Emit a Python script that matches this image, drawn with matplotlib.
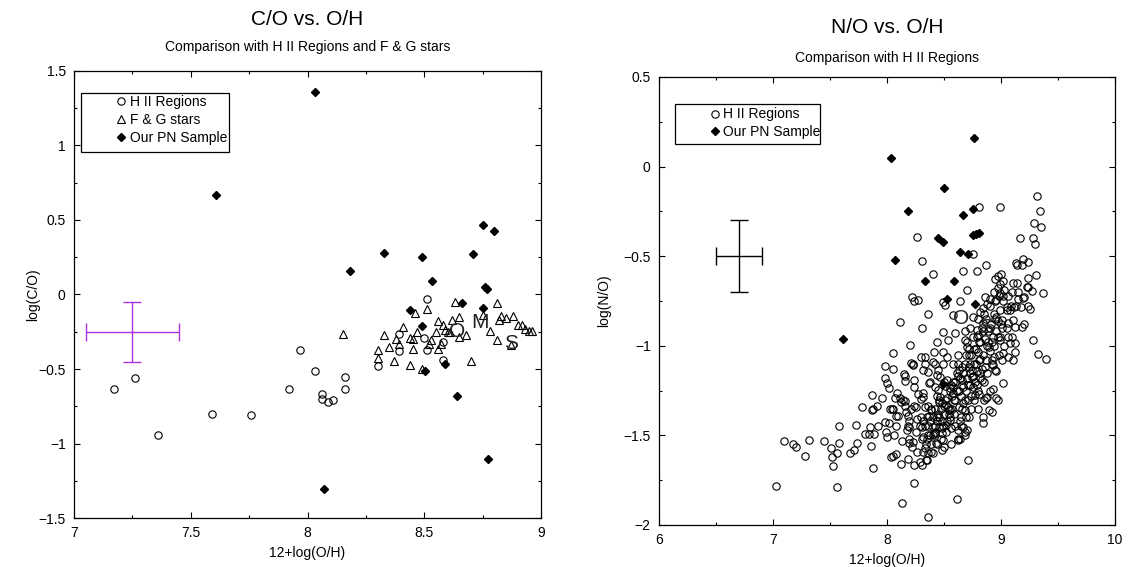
import matplotlib
matplotlib.use('Agg')
import matplotlib.pyplot as plt
from matplotlib.ticker import MultipleLocator, FuncFormatter
from matplotlib.patches import Rectangle

plt.rcParams['font.family'] = ['Liberation Sans', 'DejaVu Sans']

# ---- left panel: C/O vs O/H ----
hii_oh = [7.17, 7.26, 7.36, 7.59, 7.76, 7.919, 7.969, 8.031, 8.06, 8.06, 8.089, 8.11,
          8.16, 8.16, 8.30, 8.39, 8.39, 8.50, 8.51, 8.51, 8.58, 8.58]
hii_co = [-0.633, -0.561, -0.944, -0.800, -0.812, -0.633, -0.371, -0.514, -0.668, -0.70,
          -0.722, -0.709, -0.552, -0.633, -0.481, -0.262, -0.380, -0.291, -0.031, -0.373,
          -0.322, -0.438]

fg_oh = [8.151, 8.30, 8.30, 8.329, 8.35, 8.369, 8.38, 8.39, 8.41, 8.44, 8.45, 8.45, 8.44,
         8.46, 8.47, 8.49, 8.51, 8.52, 8.53, 8.55, 8.56, 8.56, 8.57, 8.58, 8.59, 8.60,
         8.61, 8.62, 8.63, 8.65, 8.65, 8.68, 8.70, 8.75, 8.78, 8.81, 8.81, 8.82, 8.83,
         8.85, 8.88, 8.90, 8.92, 8.93, 8.95, 8.96, 8.87]
fg_co = [-0.262, -0.371, -0.423, -0.270, -0.349, -0.445, -0.300, -0.329, -0.220, -0.295,
         -0.300, -0.367, -0.472, -0.125, -0.255, -0.503, -0.100, -0.329, -0.304, -0.255,
         -0.181, -0.367, -0.329, -0.203, -0.237, -0.255, -0.255, -0.172, -0.051, -0.152,
         -0.282, -0.275, -0.449, -0.136, -0.248, -0.060, -0.304, -0.172, -0.143, -0.161,
         -0.143, -0.203, -0.203, -0.232, -0.248, -0.248, -0.338]

pn_oh = [8.031, 7.61, 8.329, 8.18, 8.492, 8.532, 8.75, 8.80, 8.71, 8.759, 8.77, 8.66,
         8.75, 8.44, 8.492, 8.502, 8.59, 8.639, 8.772, 8.069]
pn_co = [1.359, 0.668, 0.279, 0.159, 0.250, 0.089, 0.469, 0.429, 0.270, 0.051, 0.040,
         -0.060, -0.092, -0.107, -0.210, -0.512, -0.467, -0.682, -1.102, -1.303]

sun_labels = ['O', 'M', 'S']
sun_oh = [8.64, 8.74, 8.87]
sun_co = [-0.25, -0.19, -0.33]

err_left = (7.25, -0.25, 0.2, 0.2)

# ---- right panel: N/O vs O/H ----
hii2_oh = [
    7.023, 7.094, 7.178, 7.199, 7.284, 7.319, 7.447, 7.509, 7.515, 7.530, 7.558, 7.576,
    7.558, 7.582, 7.673, 7.711, 7.725, 7.734, 7.778, 7.807, 7.860, 7.874, 7.865, 7.880,
    7.868, 7.850, 7.915, 7.953, 7.920, 7.980, 7.988, 7.997, 7.985, 8.003, 8.015, 7.985,
    8.050, 8.050, 8.026, 8.020, 8.050, 8.032, 8.050, 8.076, 8.073, 8.085, 8.094, 8.114,
    8.126, 8.132, 8.137, 8.158, 8.149, 8.158, 8.167, 8.172, 8.196, 8.196, 8.216, 8.230,
    8.187, 8.208, 8.230, 8.205, 8.237, 8.237, 8.237, 8.240, 8.254, 8.260, 8.295, 8.304,
    8.313, 8.333, 8.318, 8.333, 8.304, 8.318, 8.333, 8.348, 8.360, 8.357, 8.360, 8.377,
    8.390, 8.406, 8.406, 8.420, 8.406, 8.436, 8.450, 8.465, 8.450, 8.465, 8.480, 8.459,
    8.480, 8.494, 8.500, 8.494, 8.509, 8.494, 8.494, 8.523, 8.523, 8.538, 8.538, 8.547,
    8.553, 8.582, 8.582, 8.588, 8.582, 8.596, 8.617, 8.626, 8.634, 8.626, 8.640, 8.664,
    8.655, 8.670, 8.670, 8.684, 8.693, 8.684, 8.699, 8.699, 8.705, 8.713, 8.728, 8.743,
    8.743, 8.722, 8.757, 8.772, 8.787, 8.801, 8.801, 8.816, 8.816, 8.830, 8.839, 8.845,
    8.845, 8.860, 8.874, 8.889, 8.898, 8.874, 8.898, 8.918, 8.918, 8.927, 8.940, 8.956,
    8.947, 8.956, 8.977, 8.991, 8.991, 9.006, 9.020, 9.015, 9.050, 9.056, 9.064, 9.079,
    9.064, 9.102, 9.108, 9.120, 9.120, 9.137, 9.180, 9.196, 9.240, 9.254, 9.283, 9.327,
    9.392, 9.365,
    # upper part
    9.319, 9.342, 9.292, 9.348, 8.988, 8.810, 8.260, 9.167, 9.284, 9.298, 8.304, 9.132,
    9.138, 9.190, 9.240, 9.180, 8.751, 8.865, 8.670, 8.792, 8.400, 8.977, 8.947, 9.020,
    9.305, 9.240, 9.102, 9.146, 8.977, 8.991, 9.231, 9.275, 9.000,
    8.94, 8.98, 9.03, 9.06, 9.10, 8.90, 9.15, 9.20, 8.22, 8.24, 8.27,
    8.96, 9.02, 9.11, 9.175, 9.235, 8.816, 8.845, 8.751, 9.006, 9.064,
    # crowded middle
    8.415, 8.33, 8.225, 8.36, 8.42, 8.49, 8.44, 8.16, 8.366, 8.418, 8.505, 8.55, 8.11,
    8.27, 8.313, 8.30, 8.04, 8.155, 8.125, 8.21, 8.24, 8.36, 8.39, 8.46, 8.50, 8.55,
    8.08, 8.18, 8.30, 8.37, 8.44,
    7.84, 7.89, 8.29, 8.31, 8.34, 8.39, 8.32, 8.26, 8.19, 8.13, 8.25, 8.18, 8.19, 8.06,
    8.08, 8.29, 8.32, 8.36, 8.41, 8.43, 8.39, 8.48, 8.52, 8.56, 8.62, 8.65, 8.68, 8.62,
    8.31, 8.35,
    9.09, 9.13, 9.20, 9.12, 9.01, 8.96, 8.97, 8.93, 8.87, 8.81,
    8.40, 8.42, 8.44, 8.45, 8.47, 8.48, 8.50, 8.52, 8.53, 8.55, 8.55, 8.57, 8.58, 8.60,
    8.61, 8.62, 8.63, 8.65, 8.66, 8.67, 8.68, 8.69, 8.70, 8.71, 8.72, 8.73, 8.74, 8.75,
    8.76, 8.77, 8.78, 8.79, 8.80, 8.81, 8.82, 8.83, 8.84, 8.85, 8.86, 8.87, 8.88, 8.89,
    8.90, 8.91, 8.92, 8.93, 8.94, 8.95, 8.96, 8.98, 8.99, 9.00, 8.60, 8.65, 8.38, 8.36,
    8.44, 8.52, 8.46, 8.50, 8.62, 8.70, 8.58, 8.66, 8.72, 8.76, 8.80, 8.85, 8.90, 8.56,
    8.48, 8.40, 8.34, 8.33, 8.42, 8.73, 8.80, 8.85, 8.90, 8.95, 9.02, 9.05, 9.08, 9.10,
    9.03, 8.68, 8.64, 8.60, 8.74, 8.79, 8.83,
    8.42, 8.46, 8.49, 8.51, 8.54, 8.56, 8.59, 8.61, 8.63, 8.64, 8.66, 8.68, 8.69, 8.71,
    8.73, 8.74, 8.76, 8.78, 8.79, 8.81, 8.82, 8.84, 8.86, 8.88, 8.90, 8.92, 8.94, 8.97,
    8.99, 8.72, 8.64, 8.57, 8.53, 8.47, 8.38, 8.35, 8.44, 8.68, 8.75, 8.87]
hii2_no = [
    -1.781, -1.532, -1.549, -1.564, -1.614, -1.523, -1.534, -1.569, -1.619, -1.672,
    -1.601, -1.545, -1.787, -1.448, -1.601, -1.582, -1.443, -1.541, -1.340, -1.493,
    -1.558, -1.681, -1.359, -1.350, -1.275, -1.452, -1.337, -1.290, -1.448, -1.428,
    -1.480, -1.508, -1.179, -1.210, -1.233, -1.113, -1.039, -1.132, -1.355, -1.430,
    -1.350, -1.619, -1.616, -1.605, -1.294, -1.266, -1.390, -0.870, -1.657, -1.880,
    -1.300, -1.310, -1.160, -1.167, -1.368, -1.470, -1.452, -1.545, -1.564, -1.536,
    -1.634, -1.097, -1.108, -0.996, -1.190, -1.229, -1.765, -1.666, -1.340, -1.411,
    -1.065, -0.900, -1.136, -1.099, -1.285, -1.340, -1.452, -1.508, -1.573, -1.638,
    -1.600, -1.954, -0.820, -1.200, -1.359, -1.396, -1.452, -1.489, -1.089, -0.978,
    -1.136, -1.173, -1.247, -1.285, -1.322, -1.452, -1.489, -1.526, -1.564, -0.754,
    -0.773, -0.922, -1.033, -1.061, -1.190, -0.970, -1.340, -1.378, -1.415, -1.229,
    -1.266, -1.303, -0.829, -0.931, -1.856, -1.099, -1.136, -1.526, -0.749, -1.452,
    -1.190, -1.229, -1.322, -1.359, -1.396, -0.968, -1.006, -0.689, -1.471, -1.638,
    -1.099, -1.136, -1.173, -1.020, -1.229, -1.275, -0.913, -0.940, -1.033, -1.071,
    -1.154, -1.192, -1.396, -1.433, -0.875, -0.727, -0.764, -0.978, -1.006, -1.285,
    -1.359, -1.368, -1.080, -1.108, -0.820, -0.838, -1.136, -1.294, -0.950, -0.968,
    -0.708, -0.903, -1.043, -1.210, -0.782, -0.800, -0.950, -0.987, -1.061, -1.080,
    -0.857, -0.894, -1.033, -0.652, -0.894, -0.736, -0.671, -0.792, -0.965, -1.047,
    -1.071, -0.704,
    # upper part
    -0.164, -0.248, -0.317, -0.339, -0.225, -0.225, -0.391, -0.397, -0.400, -0.432,
    -0.527, -0.536, -0.551, -0.517, -0.530, -0.549, -0.490, -0.549, -0.583, -0.583,
    -0.599, -0.609, -0.629, -0.637, -0.607, -0.624, -0.651, -0.698, -0.679, -0.655,
    -0.674, -0.696, -0.600,
    -0.70, -0.72, -0.69, -0.72, -0.70, -0.74, -0.74, -0.73, -0.73, -0.75, -0.745,
    -0.745, -0.75, -0.785, -0.785, -0.78, -0.81, -0.791, -0.838, -0.856, -0.875,
    # crowded middle
    -1.034, -1.062, -1.099, -1.145, -1.099, -1.099, -1.164, -1.197, -1.210, -1.231,
    -1.225, -1.236, -1.289, -1.270, -1.261, -1.298, -1.350, -1.335, -1.316, -1.350,
    -1.335, -1.335, -1.354, -1.316, -1.335, -1.354, -1.390, -1.390, -1.400, -1.390,
    -1.400,
    -1.49, -1.49, -1.646, -1.665, -1.637, -1.59, -1.59, -1.59, -1.52, -1.534, -1.48,
    -1.45, -1.42, -1.50, -1.45, -1.45, -1.42, -1.45, -1.49, -1.54, -1.55, -1.46,
    -1.44, -1.46, -1.47, -1.45, -1.50, -1.52, -1.52, -1.52,
    -0.78, -0.78, -0.88, -0.985, -1.08, -1.14, -1.30, -1.24, -1.29, -1.27,
    -1.50, -1.45, -1.42, -1.38, -1.35, -1.42, -1.38, -1.33, -1.29, -1.25, -1.40,
    -1.35, -1.20, -1.30, -1.25, -1.17, -1.34, -1.28, -1.22, -1.15, -1.10, -1.25,
    -1.18, -1.30, -1.12, -1.22, -1.05, -1.17, -1.10, -1.20, -1.02, -1.14, -1.25,
    -1.08, -0.98, -1.13, -1.05, -1.20, -0.96, -1.08, -1.15, -0.92, -1.03, -0.88,
    -1.10, -0.95, -1.00, -0.85, -0.92, -1.05, -0.80, -0.88, -1.45, -1.40, -1.42,
    -1.50, -1.55, -1.48, -1.30, -1.20, -1.05, -0.98, -1.10, -1.35, -1.40, -1.30,
    -1.35, -1.30, -1.25, -1.55, -1.58, -1.60, -1.55, -1.45, -1.35, -0.90, -0.85,
    -0.82, -0.78, -0.75, -0.72, -0.90, -0.80, -0.95, -1.00, -1.48, -1.52, -1.20,
    -1.35, -0.95, -0.90,
    -1.48, -1.40, -1.45, -1.30, -1.36, -1.22, -1.38, -1.15, -1.25, -1.42, -1.12,
    -1.30, -1.05, -1.22, -1.15, -1.28, -1.02, -1.10, -1.22, -0.98, -1.18, -0.92,
    -1.12, -1.00, -0.90, -0.98, -1.06, -0.86, -0.95, -1.05, -1.18, -1.28, -1.42,
    -1.52, -1.50, -1.40, -1.28, -0.92, -0.95, -0.85]

pn2_oh = [8.035, 8.766, 8.503, 8.181, 8.664, 8.754, 8.444, 8.494, 8.754, 8.778, 8.807,
          8.073, 8.643, 8.711, 8.333, 8.591, 8.530, 8.775, 7.617, 8.494]
pn2_no = [0.050, 0.161, -0.118, -0.248, -0.270, -0.238, -0.398, -0.419, -0.380, -0.377,
          -0.370, -0.519, -0.478, -0.490, -0.638, -0.638, -0.741, -0.767, -0.961, -1.216]

sun2_labels = ['O', 'S']
sun2_oh = [8.65, 8.87]
sun2_no = [-0.85, -0.90]

err_right = (6.7, -0.5, 0.2, 0.2)


def fmt(v, pos):
    return ('%g' % round(v, 3)).replace('-', '\u2212')


def style_axes(ax, xmaj, xmin, ymaj, ymin):
    ax.xaxis.set_major_locator(MultipleLocator(xmaj))
    ax.xaxis.set_minor_locator(MultipleLocator(xmin))
    ax.yaxis.set_major_locator(MultipleLocator(ymaj))
    ax.yaxis.set_minor_locator(MultipleLocator(ymin))
    ax.xaxis.set_major_formatter(FuncFormatter(fmt))
    ax.yaxis.set_major_formatter(FuncFormatter(fmt))
    ax.tick_params(which='both', direction='in', top=True, right=True, labelsize=10)
    ax.tick_params(which='major', length=4.5, width=0.8)
    ax.tick_params(which='minor', length=2.5, width=0.8)
    ax.tick_params(axis='x', which='major', pad=5.5)
    ax.tick_params(axis='y', which='major', pad=6)
    for s in ax.spines.values():
        s.set_linewidth(0.9)


fig = plt.figure(figsize=(11.35, 5.67), dpi=100)

# left
ax1 = fig.add_axes([0.0652, 0.0864, 0.4115, 0.7884])
ax1.plot(fg_oh, fg_co, linestyle='none', marker='^', ms=6, mfc='none', mec='black',
         mew=0.8, label='F & G stars', zorder=3)
ax1.plot(hii_oh, hii_co, linestyle='none', marker='o', ms=5.3, mfc='none', mec='black',
         mew=0.8, label='H II Regions', zorder=3)
ax1.plot(pn_oh, pn_co, linestyle='none', marker='D', ms=4.2, mfc='black', mec='black',
         label='Our PN Sample', zorder=4)
for lab, x, y in zip(sun_labels, sun_oh, sun_co):
    ax1.text(x, y, lab, fontsize=15, color='#252525', ha='center', va='center', zorder=5)
ax1.errorbar([err_left[0]], [err_left[1]], xerr=err_left[2], yerr=err_left[3],
             color='#AA33DD', lw=1.0, capsize=6.5, capthick=1.0, zorder=2)
ax1.set_xlim(7, 9)
ax1.set_ylim(-1.5, 1.5)
style_axes(ax1, 0.5, 0.25, 0.5, 0.25)
ax1.set_xlabel('12+log(O/H)', fontsize=10)
ax1.set_ylabel('log(C/O)', fontsize=10)
ax1.xaxis.set_label_coords(0.5, -0.0626)
ax1.yaxis.set_label_coords(-0.0728, 0.5)

h, l = ax1.get_legend_handles_labels()
order = [1, 0, 2]
ax1.legend([h[i] for i in order], [l[i] for i in order], loc='upper left',
           bbox_to_anchor=(0.088, 0.947), frameon=False, borderpad=0, borderaxespad=0,
           handlelength=0.8, handletextpad=0.3, labelspacing=0.3, fontsize=10)
ax1.add_patch(Rectangle((0.0143, 0.8188), 0.3183, 0.1327, transform=ax1.transAxes,
                        fill=False, edgecolor='black', lw=0.9, zorder=6))

fig.text(0.271, 0.965, 'C/O vs. O/H', ha='center', va='center', fontsize=15)
fig.text(0.271, 0.917, 'Comparison with H II Regions and F & G stars', ha='center',
         va='center', fontsize=10)

# right
ax2 = fig.add_axes([0.5806, 0.0741, 0.4018, 0.7901])
ax2.plot(hii2_oh, hii2_no, linestyle='none', marker='o', ms=5.3, mfc='none', mec='black',
         mew=0.8, label='H II Regions', zorder=3)
ax2.plot(pn2_oh, pn2_no, linestyle='none', marker='D', ms=4.2, mfc='black', mec='black',
         label='Our PN Sample', zorder=4)
for lab, x, y in zip(sun2_labels, sun2_oh, sun2_no):
    ax2.text(x, y, lab, fontsize=15, color='#252525', ha='center', va='center', zorder=5)
ax2.errorbar([err_right[0]], [err_right[1]], xerr=err_right[2], yerr=err_right[3],
             color='black', lw=1.0, capsize=6.5, capthick=1.0, zorder=2)
ax2.set_xlim(6, 10)
ax2.set_ylim(-2, 0.5)
style_axes(ax2, 1, 0.5, 0.5, 0.25)
ax2.set_xlabel('12+log(O/H)', fontsize=10)
ax2.set_ylabel('log(N/O)', fontsize=10)
ax2.xaxis.set_label_coords(0.5, -0.0625)
ax2.yaxis.set_label_coords(-0.105, 0.5)
ax2.legend(loc='upper left', bbox_to_anchor=(0.1105, 0.932), frameon=False, borderpad=0,
           borderaxespad=0, handlelength=0.8, handletextpad=0.2, labelspacing=0.25,
           fontsize=10)
ax2.add_patch(Rectangle((0.0344, 0.851), 0.3186, 0.0887, transform=ax2.transAxes,
                        fill=False, edgecolor='black', lw=0.9, zorder=6))

fig.text(0.7815, 0.952, 'N/O vs. O/H', ha='center', va='center', fontsize=15)
fig.text(0.7815, 0.897, 'Comparison with H II Regions', ha='center', va='center',
         fontsize=10)

fig.savefig('out.png', dpi=100)
